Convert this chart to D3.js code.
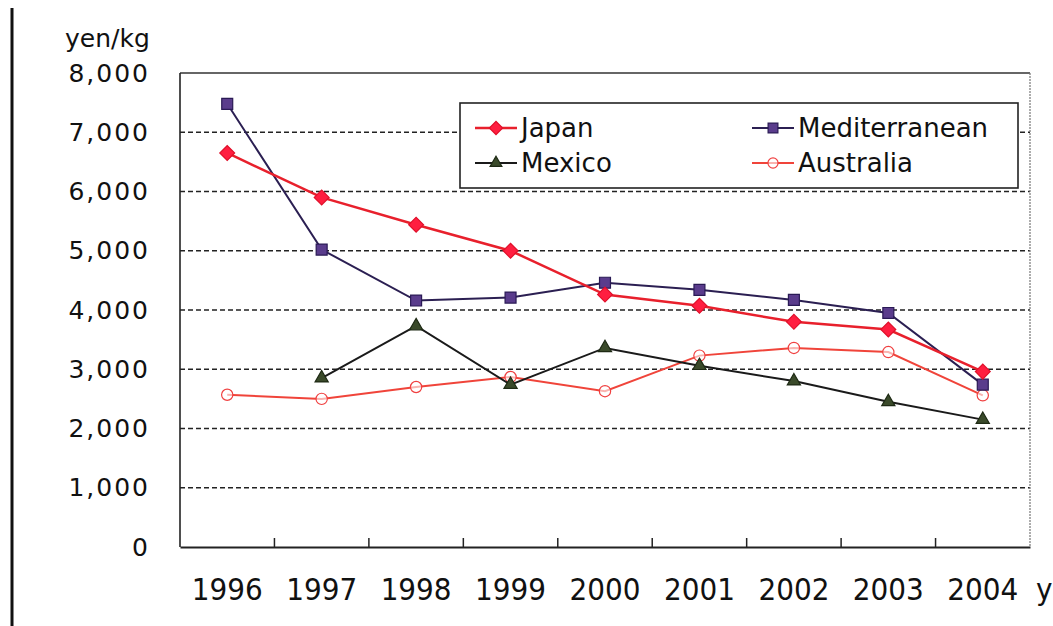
<!DOCTYPE html>
<html><head><meta charset="utf-8">
<script src="https://cdn.jsdelivr.net/npm/d3@7"></script>
<style>html,body{margin:0;padding:0;background:#fff;}svg{display:block;}</style>
</head><body>
<svg id="c" width="1053" height="626"></svg>
<script>
const years = ["1996","1997","1998","1999","2000","2001","2002","2003","2004"];
const japan = [6650, 5900, 5440, 5000, 4260, 4070, 3800, 3670, 2960];
const mediterranean = [7480, 5020, 4160, 4210, 4460, 4340, 4170, 3950, 2740];
const mexico = [null, 2850, 3730, 2740, 3360, 3060, 2800, 2450, 2150];
const australia = [2570, 2500, 2700, 2870, 2630, 3230, 3360, 3290, 2560];
const yTicks = [0, 1000, 2000, 3000, 4000, 5000, 6000, 7000, 8000];
const seriesNames = ["Japan", "Mediterranean", "Mexico", "Australia"];

const svg = d3.select("#c");
const L = 180, R = 1030, T = 73, B = 547;
const x = d3.scaleBand().domain(years).range([L, R]).padding(0);
const cx = d => x(d) + x.bandwidth() / 2;
const y = d3.scaleLinear().domain([0, 8000]).range([B, T]);

// left decorative border
svg.append("line").attr("x1", 12).attr("x2", 12).attr("y1", 8).attr("y2", 626)
  .attr("stroke", "#111").attr("stroke-width", 3);

// gridlines
svg.append("g").selectAll("line").data(yTicks.filter(v => v > 0 && v < 8000)).join("line")
  .attr("x1", L).attr("x2", R).attr("y1", d => y(d)).attr("y2", d => y(d))
  .attr("stroke", "#222").attr("stroke-width", 1.6).attr("stroke-dasharray", "5,3");

// frame
svg.append("line").attr("x1", L).attr("x2", R).attr("y1", T).attr("y2", T).attr("stroke", "#333").attr("stroke-width", 1.5);
svg.append("line").attr("x1", R).attr("x2", R).attr("y1", T).attr("y2", B).attr("stroke", "#777").attr("stroke-width", 1.2).attr("stroke-dasharray", "2,1");
svg.append("line").attr("x1", L).attr("x2", L).attr("y1", T).attr("y2", B).attr("stroke", "#222").attr("stroke-width", 1.6);

// x axis
const xAxis = d3.axisBottom(x).tickSize(0).tickPadding(30);
const gx = svg.append("g").attr("transform", `translate(0,${B})`).call(xAxis);
gx.select(".domain").attr("stroke", "#222").attr("stroke-width", 2);
gx.selectAll("text").attr("font-family", "DejaVu Sans Condensed").attr("font-size", 31)
  .attr("fill", "#111").attr("y", 53).attr("dy", 0);
// inner ticks at band boundaries
svg.append("g").selectAll("line").data(years.slice(1)).join("line")
  .attr("x1", d => x(d)).attr("x2", d => x(d)).attr("y1", B).attr("y2", B - 9)
  .attr("stroke", "#222").attr("stroke-width", 1.5);
svg.append("text").attr("x", 1036).attr("y", 600).attr("font-family", "DejaVu Sans Condensed")
  .attr("font-size", 31).attr("fill", "#111").text("y");

// y axis labels
const yAxis = d3.axisLeft(y).tickValues(yTicks).tickSize(0).tickPadding(30).tickFormat(d3.format(","));
const gy = svg.append("g").attr("transform", `translate(${L},0)`).call(yAxis);
gy.select(".domain").remove();
gy.selectAll("text").attr("font-family", "DejaVu Sans").attr("font-size", 25)
  .attr("letter-spacing", 2).attr("fill", "#111");
svg.append("text").attr("x", 65).attr("y", 47).attr("font-family", "DejaVu Sans")
  .attr("font-size", 25).attr("fill", "#111").text("yen/kg");

const styles = {
  Japan: {line: "#e8202c", w: 2.5, sym: d3.symbolSquare, rot: 45, size: 110, fill: "#ff1e40", stroke: "#e0102a"},
  Mediterranean: {line: "#2b1f52", w: 2, sym: d3.symbolSquare, rot: 0, size: 120, fill: "#5a3c8c", stroke: "#2a1a55"},
  Mexico: {line: "#1a1a1a", w: 2, sym: d3.symbolTriangle, rot: 0, size: 75, fill: "#3a4a2a", stroke: "#1e2a14"},
  Australia: {line: "#f0443a", w: 2, sym: d3.symbolCircle, rot: 0, size: 100, fill: "rgba(255,255,255,0.6)", stroke: "#f04040"}
};
const data = {Japan: japan, Mediterranean: mediterranean, Mexico: mexico, Australia: australia};

const lineGen = d3.line().defined(d => d.v != null).x(d => cx(d.year)).y(d => y(d.v));
const order = ["Australia", "Mexico", "Mediterranean", "Japan"];
order.forEach(name => {
  const s = styles[name];
  const pts = years.map((yr, i) => ({year: yr, v: data[name][i]}));
  svg.append("path").datum(pts).attr("d", lineGen).attr("fill", "none")
    .attr("stroke", s.line).attr("stroke-width", s.w);
  svg.append("g").selectAll("path").data(pts.filter(p => p.v != null)).join("path")
    .attr("transform", p => `translate(${cx(p.year)},${y(p.v)}) rotate(${s.rot})`)
    .attr("d", d3.symbol().type(s.sym).size(s.size))
    .attr("fill", s.fill).attr("stroke", s.stroke).attr("stroke-width", 1.2);
});

// legend
const lg = svg.append("g");
lg.append("rect").attr("x", 460).attr("y", 103).attr("width", 558).attr("height", 85)
  .attr("fill", "#fff").attr("stroke", "#222").attr("stroke-width", 1.6);
const legPos = {
  Japan: [475, 128], Mediterranean: [752, 128], Mexico: [475, 163], Australia: [752, 163]
};
seriesNames.forEach(name => {
  const s = styles[name];
  const [lx, ly] = legPos[name];
  lg.append("line").attr("x1", lx).attr("x2", lx + 42).attr("y1", ly).attr("y2", ly)
    .attr("stroke", s.line).attr("stroke-width", s.w);
  lg.append("path").attr("transform", `translate(${lx + 21},${ly}) rotate(${s.rot})`)
    .attr("d", d3.symbol().type(s.sym).size(s.size * 0.8))
    .attr("fill", s.fill).attr("stroke", s.stroke).attr("stroke-width", 1.2);
  lg.append("text").attr("x", lx + 46).attr("y", ly).attr("dy", "0.36em")
    .attr("font-family", "DejaVu Sans").attr("font-size", 26).attr("fill", "#111").text(name);
});
</script>
</body></html>
